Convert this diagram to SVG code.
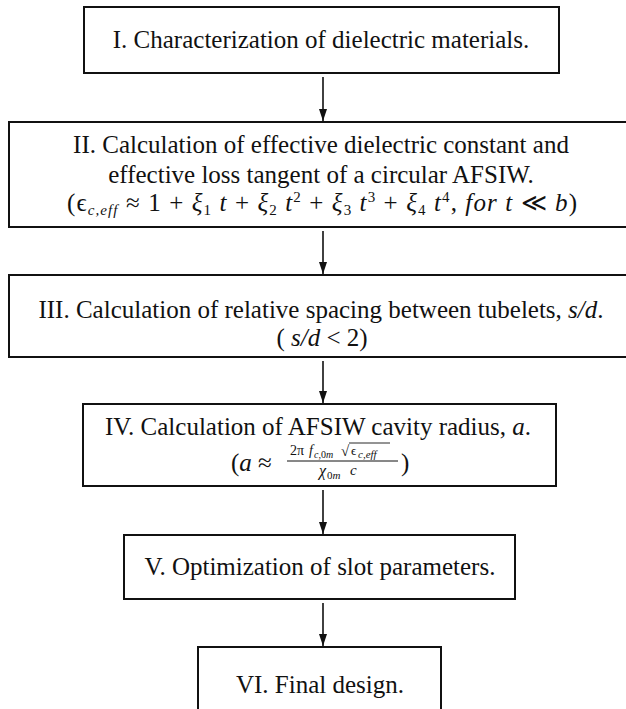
<svg xmlns="http://www.w3.org/2000/svg" width="626" height="709" viewBox="0 0 626 709" font-family="Liberation Serif, Times New Roman, serif">
<style>
.t{font-size:25px;text-anchor:middle}
.i{font-style:italic}
.box{fill:#fff;stroke:#111;stroke-width:2}
.c{stroke:#111;stroke-width:1.6;fill:none}
</style>
<defs>
<marker id="ah" markerUnits="userSpaceOnUse" markerWidth="12" markerHeight="18" refX="12" refY="6" orient="auto">
<path d="M0,0 L18,6 L0,12 Z" fill="#111" transform="translate(-6,0)"/>
</marker>
</defs>
<rect width="626" height="709" fill="#fff"/>
<g id="connectors">
<line class="c" x1="323" y1="77" x2="323" y2="121" marker-end="url(#ah)"/>
<line class="c" x1="323" y1="231" x2="323" y2="274" marker-end="url(#ah)"/>
<line class="c" x1="323" y1="361" x2="323" y2="403" marker-end="url(#ah)"/>
<line class="c" x1="323" y1="490" x2="323" y2="534" marker-end="url(#ah)"/>
<line class="c" x1="323" y1="603" x2="323" y2="646" marker-end="url(#ah)"/>
</g>
<g fill="#111">
<g id="n1">
<rect class="box" x="84" y="7" width="475" height="66"/>
<text class="t" x="321" y="48">I. Characterization of dielectric materials.</text>
</g>
<g id="n2">
<rect class="box" x="9" y="122" width="640" height="105"/>
<text class="t" x="321" y="153">II. Calculation of effective dielectric constant and</text>
<text class="t" x="321" y="183">effective loss tangent of a circular AFSIW.</text>
<text x="67" y="211" font-size="25" textLength="510" lengthAdjust="spacing">(ϵ<tspan class="i" font-size="15" dy="4">c,eff</tspan><tspan dy="-4"> ≈ 1 + </tspan><tspan class="i">ξ</tspan><tspan font-size="15" dy="4">1</tspan><tspan class="i" dy="-4"> t</tspan> + <tspan class="i">ξ</tspan><tspan font-size="15" dy="4">2</tspan><tspan class="i" dy="-4"> t</tspan><tspan font-size="15" dy="-9">2</tspan><tspan dy="9"> + </tspan><tspan class="i">ξ</tspan><tspan font-size="15" dy="4">3</tspan><tspan class="i" dy="-4"> t</tspan><tspan font-size="15" dy="-9">3</tspan><tspan dy="9"> + </tspan><tspan class="i">ξ</tspan><tspan font-size="15" dy="4">4</tspan><tspan class="i" dy="-4"> t</tspan><tspan font-size="15" dy="-9">4</tspan><tspan dy="9">, </tspan><tspan class="i">for t</tspan> ≪ <tspan class="i">b</tspan>)</text>
</g>
<g id="n3">
<rect class="box" x="9" y="275" width="640" height="82"/>
<text class="t" x="321" y="318">III. Calculation of relative spacing between tubelets, <tspan class="i">s/d</tspan>.</text>
<text class="t" x="322" y="346">( <tspan class="i">s/d</tspan> &lt; 2)</text>
</g>
<g id="n4">
<rect class="box" x="83" y="404" width="473" height="82"/>
<text class="t" x="318" y="435">IV. Calculation of AFSIW cavity radius, <tspan class="i">a</tspan>.</text>
<text x="231" y="471" font-size="25">(<tspan class="i">a</tspan> ≈</text>
<text x="290" y="455" font-size="14">2π</text>
<text x="309" y="455" font-size="14" class="i">f</text>
<text x="314" y="458" font-size="10"><tspan class="i">c</tspan>,0<tspan class="i">m</tspan></text>
<text x="341" y="456" font-size="15">√</text>
<line x1="349" y1="443" x2="390" y2="443" stroke="#111" stroke-width="0.9"/>
<text x="351" y="455" font-size="13">ϵ</text>
<text x="358" y="458" font-size="11" class="i">c,eff</text>
<line x1="287" y1="461" x2="398" y2="461" stroke="#111" stroke-width="1"/>
<text x="319" y="476" font-size="16" class="i">χ</text>
<text x="327" y="479" font-size="11">0<tspan class="i">m</tspan></text>
<text x="350" y="475" font-size="15" class="i">c</text>
<text x="401" y="471" font-size="25">)</text>
</g>
<g id="n5">
<rect class="box" x="124" y="535" width="391" height="64"/>
<text class="t" x="320" y="575">V. Optimization of slot parameters.</text>
</g>
<g id="n6">
<rect class="box" x="198" y="647" width="243" height="80"/>
<text class="t" x="320" y="693">VI. Final design.</text>
</g>
</g>
</svg>
